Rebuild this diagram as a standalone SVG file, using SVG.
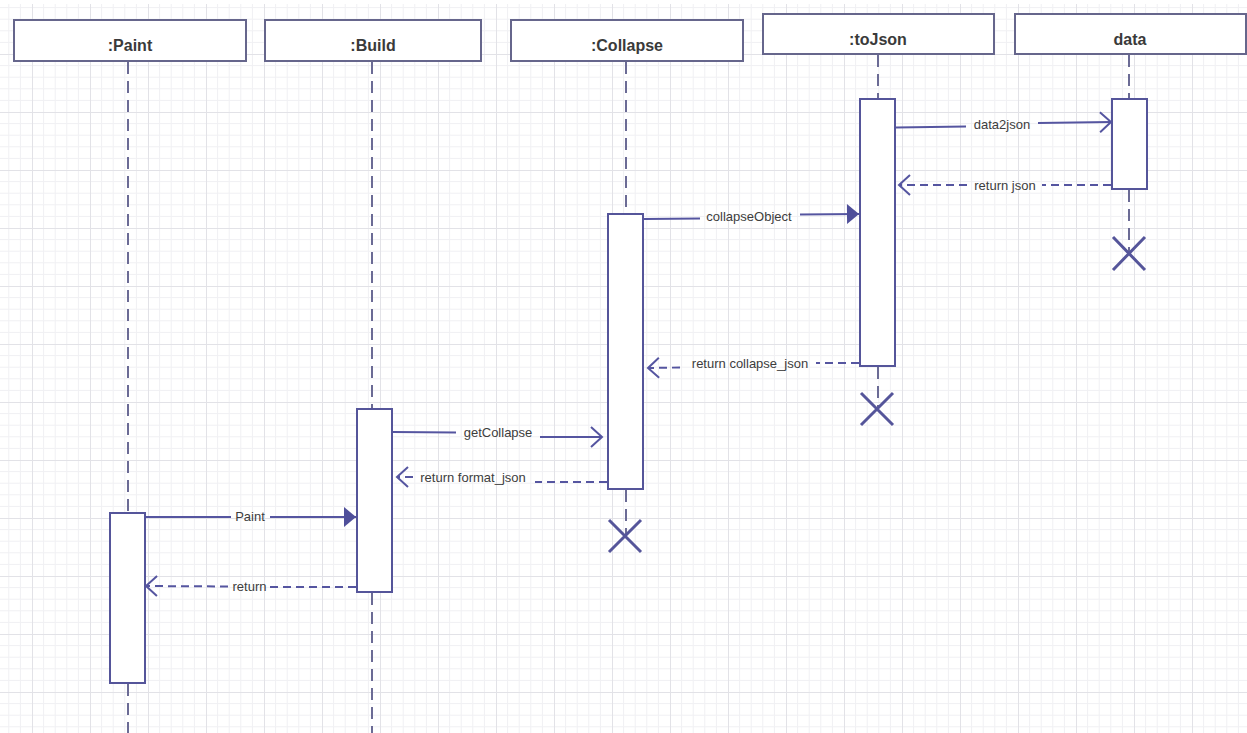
<svg xmlns="http://www.w3.org/2000/svg" width="1247" height="733" viewBox="0 0 1247 733">
<style>
.hdr{fill:#fff;stroke:#66668c;stroke-width:2}
.hdrtxt{font-family:"Liberation Sans",Arial,sans-serif;font-size:16px;font-weight:bold;fill:#3a3a3a;text-anchor:middle}
.life{stroke:#6b6b95;stroke-width:2;stroke-dasharray:12 7;fill:none}
.act{fill:#fff;stroke:#55559a;stroke-width:2}
.kill{stroke:#55559a;stroke-width:3;fill:none}
.msg{stroke:#5555a0;stroke-width:2;fill:none}
.ret{stroke:#5555a0;stroke-width:2;fill:none;stroke-dasharray:8 5}
.lbl{font-family:"Liberation Sans",Arial,sans-serif;font-size:13px;fill:#3d3d3d;text-anchor:middle}
</style>
<defs>
<pattern id="grid" patternUnits="userSpaceOnUse" x="32" y="54" width="58" height="58">
<path d="M11.6 0V58M23.2 0V58M34.8 0V58M46.4 0V58M0 11.6H58M0 23.2H58M0 34.8H58M0 46.4H58" stroke="#f0f0f3" stroke-width="1" fill="none"/>
<path d="M0.5 0V58M0 0.5H58" stroke="#e2e2e7" stroke-width="1" fill="none"/>
</pattern>
<marker id="open" markerUnits="userSpaceOnUse" markerWidth="20" markerHeight="24" refX="14" refY="12" orient="auto">
<path d="M3 2L14 12L3 22" fill="none" stroke="#5555a0" stroke-width="2"/>
</marker>
<marker id="solid" markerUnits="userSpaceOnUse" markerWidth="16" markerHeight="24" refX="13" refY="12" orient="auto">
<path d="M1 2L13 12L1 22Z" fill="#4f4f9a" stroke="none"/>
</marker>
</defs>
<rect x="0" y="0" width="1247" height="733" fill="#fff"/>
<rect x="0" y="4" width="1247" height="729" fill="url(#grid)"/>

<g id="paint">
<rect class="hdr" x="14" y="20" width="232" height="41"/>
<text class="hdrtxt" x="130" y="51">:Paint</text>
<path class="life" d="M128 62V513M128 684V733"/>
<rect class="act" x="110" y="513" width="35" height="170"/>
</g>
<g id="build">
<rect class="hdr" x="265" y="20" width="216" height="41"/>
<text class="hdrtxt" x="373" y="51">:Build</text>
<path class="life" d="M372 62V409M372 593V733"/>
<rect class="act" x="357" y="409" width="35" height="183"/>
</g>
<g id="collapse">
<rect class="hdr" x="511" y="20" width="232" height="41"/>
<text class="hdrtxt" x="627" y="51">:Collapse</text>
<path class="life" d="M626 62V214M626 490V536"/>
<rect class="act" x="608" y="214" width="35" height="275"/>
<path class="kill" d="M609 520L641 552M641 520L609 552"/>
</g>
<g id="tojson">
<rect class="hdr" x="763" y="14" width="231" height="40"/>
<text class="hdrtxt" x="878" y="45">:toJson</text>
<path class="life" d="M878 55V99M878 367V409"/>
<rect class="act" x="860" y="99" width="35" height="267"/>
<path class="kill" d="M861 393L893 425M893 393L861 425"/>
</g>
<g id="data">
<rect class="hdr" x="1015" y="14" width="231" height="40"/>
<text class="hdrtxt" x="1130" y="45">data</text>
<path class="life" d="M1129 55V99M1129 190V253"/>
<rect class="act" x="1112" y="99" width="35" height="90"/>
<path class="kill" d="M1113 237L1145 270M1145 237L1113 270"/>
</g>

<g id="connectors">
<path class="msg" d="M896 127.5L966 126.5"/>
<path class="msg" d="M1038 123L1111 122" marker-end="url(#open)"/>
<text class="lbl" x="1002" y="128.5">data2json</text>

<path class="ret" d="M1111 185L1042 185"/>
<path class="ret" d="M967 185L899 185" marker-end="url(#open)"/>
<text class="lbl" x="1005" y="189.5">return json</text>

<path class="msg" d="M644 219L700 218.5"/>
<path class="msg" d="M800 214.5L859 214" marker-end="url(#solid)"/>
<text class="lbl" x="749" y="220.5">collapseObject</text>

<path class="ret" d="M859 363L816 363"/>
<path class="ret" d="M680 367.5L648 368" marker-end="url(#open)"/>
<text class="lbl" x="750" y="367.5">return collapse_json</text>

<path class="msg" d="M393 432L456 432.5"/>
<path class="msg" d="M540 437L602 437" marker-end="url(#open)"/>
<text class="lbl" x="498" y="436.5">getCollapse</text>

<path class="ret" d="M607 482L535 482"/>
<path class="ret" d="M413 477L397 477" marker-end="url(#open)"/>
<text class="lbl" x="473" y="481.5">return format_json</text>

<path class="msg" d="M146 517L231 517"/>
<path class="msg" d="M270 517L356 517" marker-end="url(#solid)"/>
<text class="lbl" x="250" y="520.5">Paint</text>

<path class="ret" d="M356 587L270 587"/>
<path class="ret" d="M228 586.5L146 586" marker-end="url(#open)"/>
<text class="lbl" x="249.5" y="590.5">return</text>
</g>
</svg>
